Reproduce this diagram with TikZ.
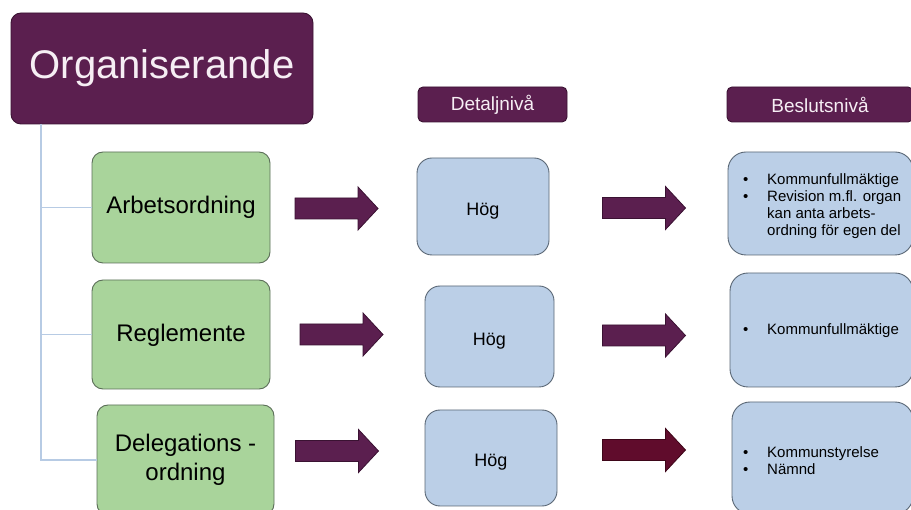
\documentclass[tikz,border=0pt]{standalone}
\usepackage{fontspec}
\setmainfont{Liberation Sans}
\definecolor{plum}{HTML}{5B1F4F}
\definecolor{plumedge}{HTML}{3A1232}
\definecolor{wine}{HTML}{600C2C}
\definecolor{wineedge}{HTML}{3E0619}
\definecolor{leaf}{HTML}{A9D49B}
\definecolor{leafedge}{HTML}{5B6E58}
\definecolor{sky}{HTML}{BBCFE7}
\definecolor{skyedge}{HTML}{5A6775}
\definecolor{branch}{HTML}{B7CBE4}
\definecolor{paletext}{HTML}{F6EEF4}
\newcommand{\bulletitem}{\makebox[24pt][l]{•}}
\begin{document}
\begin{tikzpicture}[x=1pt,y=-1pt,
  orgbox/.style={rectangle, rounded corners=10pt, fill=plum, draw=plumedge, line width=0.9pt,
    text=paletext, font=\fontsize{40}{48}\selectfont, minimum width=302pt, minimum height=111pt, inner sep=0pt},
  headbox/.style={rectangle, rounded corners=5pt, fill=plum, draw=plumedge, line width=0.9pt,
    text=paletext, font=\fontsize{19}{22}\selectfont, minimum height=35pt, inner sep=0pt},
  leafbox/.style={rectangle, rounded corners=11pt, fill=leaf, draw=leafedge, line width=0.9pt,
    font=\fontsize{24}{29}\selectfont, align=center, minimum width=178pt, inner sep=0pt},
  levelbox/.style={rectangle, rounded corners=15pt, fill=sky, draw=skyedge, line width=0.9pt,
    font=\fontsize{18}{22}\selectfont, inner sep=0pt, text height=22pt, text depth=4pt},
  bodybox/.style={rectangle, rounded corners=18pt, fill=sky, draw=skyedge, line width=0.9pt, inner sep=0pt},
  listtext/.style={font=\fontsize{15}{17}\selectfont, align=left, inner sep=0pt, anchor=west},
  tree/.style={draw=branch, line width=1.3pt},
  blockarrow/.pic={\path[pic actions] (-41.5,-10.5) -- (21.5,-10.5) -- (21.5,-21.5) -- (41.5,0)
    -- (21.5,21.5) -- (21.5,10.5) -- (-41.5,10.5) -- cycle;},
  plumarrow/.style={fill=plum, draw=plumedge, line width=0.8pt},
  winearrow/.style={fill=wine, draw=wineedge, line width=0.8pt}
]
\clip (0,0) rectangle (911,510);

% title box
\node[orgbox] (org) at (162,68.5) {Organiserande};

% column headings
\node[headbox, minimum width=149pt] (hdetail) at (492.5,104.5) {Detaljnivå};
\node[headbox, minimum width=186pt] (hdecide) at (820,104.5) {Beslutsnivå};

% document types
\node[leafbox, minimum height=111pt] (g1) at (181,207.5) {Arbetsordning};
\node[leafbox, minimum height=109pt, text height=20pt, text depth=5pt] (g2) at (181,334.5) {Reglemente};
\node[leafbox, minimum width=177pt, minimum height=110pt] (g3) at (185.5,460) {Delegations -\\ordning};

% tree from the title box
\coordinate (trunk) at (41,124);
\draw[tree] (trunk) |- (g3.west);
\draw[tree] (trunk |- g1.west) -- (g1.west);
\draw[tree] (trunk |- g2.west) -- (g2.west);

% level of detail
\node[levelbox, minimum width=132pt, minimum height=97pt] (d1) at (483,206.5) {Hög};
\node[levelbox, minimum width=129pt, minimum height=101pt] (d2) at (489.5,336.5) {Hög};
\node[levelbox, minimum width=132pt, minimum height=96pt] (d3) at (491,458) {Hög};

% decision level
\node[bodybox, minimum width=185pt, minimum height=103pt] (r1) at (820.5,203.5) {};
\node[bodybox, minimum width=183pt, minimum height=114pt] (r2) at (821.5,330) {};
\node[bodybox, minimum width=181pt, minimum height=112pt] (r3) at (822.5,458) {};

\node[listtext] (r1t) at (743,206) {\bulletitem Kommunfullmäktige\\
  \bulletitem Revision m.fl. organ\\
  \hspace*{24pt}kan anta arbets-\\
  \hspace*{24pt}ordning för egen del};
\node[listtext] (r2t) at (743,331) {\bulletitem Kommunfullmäktige};
\node[listtext] (r3t) at (743,460.5) {\bulletitem Kommunstyrelse\\
  \bulletitem Nämnd};

% block arrows
\pic[plumarrow] at (336.5,208.5) {blockarrow};
\pic[plumarrow] at (341.5,334.5) {blockarrow};
\pic[plumarrow] at (337,451) {blockarrow};
\pic[plumarrow] at (644,208) {blockarrow};
\pic[plumarrow] at (644,335.5) {blockarrow};
\pic[winearrow] at (644,450) {blockarrow};
\end{tikzpicture}
\end{document}
